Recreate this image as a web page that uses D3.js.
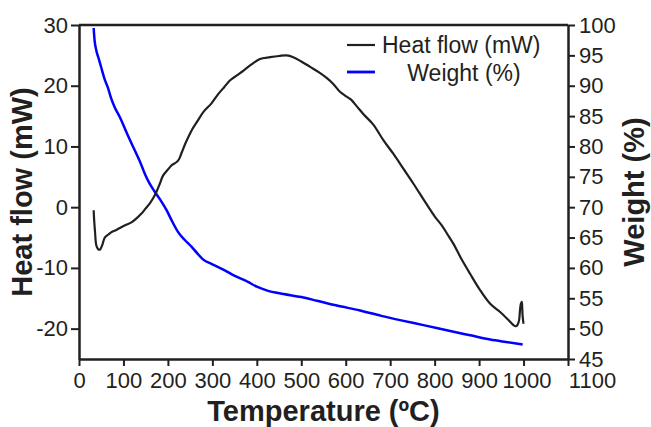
<!DOCTYPE html>
<html><head><meta charset="utf-8">
<script src="https://cdn.jsdelivr.net/npm/d3@7"></script>
<style>
html,body{margin:0;padding:0;background:#fff;}
svg{display:block;font-family:"Liberation Sans",Arial,Helvetica,sans-serif;}
</style></head>
<body><svg id="chart" width="651" height="427"></svg>
<script>
const xTicks = [0,100,200,300,400,500,600,700,800,900,1000,1100];
const heatTicks = [-20,-10,0,10,20,30];
const weightTicks = [45,50,55,60,65,70,75,80,85,90,95,100];

const heatT = [33,34,36,39,43,47,52,58,66,73,85,95,106,118,130,140,150,159,167,174,182,189,200,210,219,225,230,240,253,265,280,298,314,327,340,355,370,388,407,430,450,467,482,500,520,540,557,572,587,600,612,625,640,662,685,707,730,752,780,800,816,830,842,860,880,900,925,948,965,977,983,987,990,992,994,996,997,998,1000];
const heatV = [-0.5,-2.0,-4.0,-6.3,-6.9,-7.0,-6.3,-5.0,-4.5,-4.1,-3.7,-3.3,-2.9,-2.5,-1.8,-1.1,-0.2,0.6,1.5,2.5,3.9,5.2,6.2,7.0,7.4,7.9,8.8,10.6,12.6,14.0,15.7,17.1,18.7,19.8,20.9,21.7,22.5,23.5,24.4,24.7,24.9,25.0,24.7,24.0,23.1,22.2,21.3,20.3,19.0,18.3,17.7,16.6,15.3,13.6,11.0,8.8,6.3,3.9,0.7,-1.5,-3.0,-4.6,-6.0,-8.5,-11.0,-13.4,-15.9,-17.3,-18.5,-19.4,-19.6,-19.3,-18.6,-17.0,-15.9,-15.6,-16.5,-18.0,-19.2];

const weightT = [33,35,39,45,50,58,65,72,80,92,100,110,120,129,140,148,158,169,183,197,210,223,238,253,266,279,300,328,347,380,400,422,460,500,535,580,632,680,722,780,835,880,925,960,998];
const weightV = [99.5,97.5,95.8,94.3,93.0,91.0,89.7,88.0,86.5,84.8,83.5,81.8,80.2,78.8,77.0,75.5,74.0,72.7,71.2,69.5,67.6,65.9,64.6,63.5,62.4,61.4,60.6,59.6,58.8,57.7,56.9,56.3,55.7,55.2,54.6,53.8,53.0,52.1,51.4,50.5,49.6,48.9,48.2,47.8,47.4];

const seriesNames = ["Heat flow (mW)", "Weight (%)"];
const seriesColors = ["#231f20", "#0000ff"];

const svg = d3.select("#chart");
const L = 79, R = 568, T = 25, B = 359;
const axisColor = "#231f20";

const x = d3.scaleLinear().domain([0,1100]).range([L,R]);
const yH = d3.scaleLinear().domain([-25,30]).range([B,T]);
const yW = d3.scaleLinear().domain([45,100]).range([B,T]);

svg.append("line").attr("x1",L).attr("x2",R).attr("y1",T).attr("y2",T)
  .attr("stroke",axisColor).attr("stroke-width",2.5);

function styleAxis(g){
  g.select(".domain").attr("stroke",axisColor).attr("stroke-width",2.5);
  g.selectAll(".tick line").attr("stroke",axisColor).attr("stroke-width",2);
  g.selectAll(".tick text").attr("fill","#231f20").style("font-size","22px")
   .style("font-family","'Liberation Sans',Arial,sans-serif");
}

const gx = svg.append("g").attr("transform",`translate(0,${B})`)
  .call(d3.axisBottom(x).tickValues(xTicks).tickSize(7).tickSizeOuter(0).tickPadding(6).tickFormat(d3.format("d")));
styleAxis(gx);
gx.selectAll(".tick text").attr("dx", d => d === 1100 ? 24 : (d === 1000 ? 3 : 0));

const gl = svg.append("g").attr("transform",`translate(${L},0)`)
  .call(d3.axisLeft(yH).tickValues(heatTicks).tickSize(8).tickSizeOuter(0).tickPadding(3).tickFormat(d3.format("d")));
styleAxis(gl);
gl.selectAll(".tick text").text(d => d < 0 ? "-" + Math.abs(d) : d);

const gr = svg.append("g").attr("transform",`translate(${R},0)`)
  .call(d3.axisRight(yW).tickValues(weightTicks).tickSize(7).tickSizeOuter(0).tickPadding(4).tickFormat(d3.format("d")));
styleAxis(gr);

const heatData = heatT.map((t,i)=>({t, v:heatV[i]}));
const weightData = weightT.map((t,i)=>({t, v:weightV[i]}));

svg.append("path").datum(weightData)
  .attr("fill","none").attr("stroke",seriesColors[1]).attr("stroke-width",2.5)
  .attr("stroke-linejoin","round")
  .attr("d", d3.line().x(d=>x(d.t)).y(d=>yW(d.v)).curve(d3.curveMonotoneX));

svg.append("path").datum(heatData)
  .attr("fill","none").attr("stroke",seriesColors[0]).attr("stroke-width",2.2)
  .attr("stroke-linejoin","round")
  .attr("d", d3.line().x(d=>x(d.t)).y(d=>yH(d.v)).curve(d3.curveCatmullRom.alpha(0.5)));

const leg = svg.append("g");
[45,72].forEach((yy,i)=>{
  leg.append("line").attr("x1",347).attr("x2",375).attr("y1",yy).attr("y2",yy)
    .attr("stroke",seriesColors[i]).attr("stroke-width",i===0?2.2:2.8);
});
leg.append("text").attr("x",382).attr("y",53).text(seriesNames[0])
  .style("font-size","23px").attr("fill","#231f20");
leg.append("text").attr("x",464).attr("y",81).attr("text-anchor","middle").text(seriesNames[1])
  .style("font-size","23px").attr("fill","#231f20");

svg.append("text").attr("x",(L+R)/2).attr("y",421).attr("text-anchor","middle")
  .style("font-size","29px").style("font-weight","bold").attr("fill","#231f20")
  .text("Temperature (ºC)");
svg.append("text").attr("transform",`translate(32,${(T+B)/2}) rotate(-90)`).attr("text-anchor","middle")
  .style("font-size","29px").style("font-weight","bold").attr("fill","#231f20")
  .text("Heat flow (mW)");
svg.append("text").attr("transform",`translate(644,${(T+B)/2}) rotate(-90)`).attr("text-anchor","middle")
  .style("font-size","29px").style("font-weight","bold").attr("fill","#231f20")
  .text("Weight (%)");
</script></body></html>
